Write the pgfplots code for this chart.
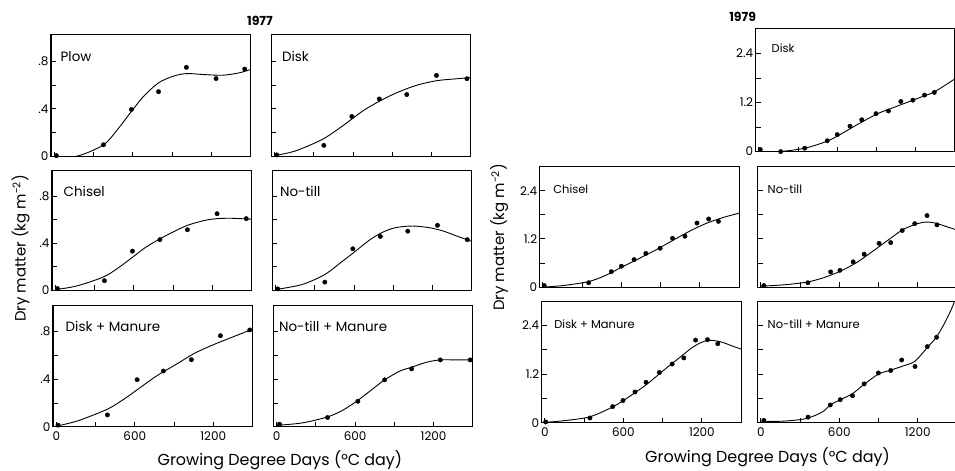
\documentclass[border=0pt]{standalone}
\usepackage{fontspec}
\setmainfont{Poppins}
\usepackage{pgfplots}
\pgfplotsset{compat=1.18}
\begin{document}
\pgfplotsset{
  panel/.style={scale only axis, anchor=north west, width=200pt,
    xmin=-25, xmax=1500, ymin=0,
    axis line style={line width=1.1pt},
    every tick/.style={black, line width=0.9pt}, major tick length=5pt,
    xtick={0,300,600,900,1200}, xticklabels={}, yticklabels={},
    xtick pos=bottom, ytick pos=left, tick align=inside,
    ticklabel style={font=\fontsize{12}{14}\selectfont},
    xticklabel style={yshift=-1pt}, yticklabel style={xshift=1pt}},
  y77/.style={ymax=1.02, ytick={0,0.2,0.4,0.6,0.8}},
  y79/.style={ymax=3.0, ytick={0,0.6,1.2,1.8,2.4}},
  ylab77/.style={yticklabels={0,,.4,,.8}},
  ylab79/.style={yticklabels={0,,1.2,,2.4}},
  xlab/.style={xticklabels={0,,600,,1200}},
  fit/.style={black, line width=0.9pt, smooth, no markers},
  pts/.style={black, only marks, mark=*, mark size=2.2pt},
}
\begin{tikzpicture}
\useasboundingbox (0pt,0pt) rectangle (955pt,-472pt);
% ---------------- 1977 ----------------
\begin{axis}[panel, y77, ylab77, height=122pt, at={(48.5pt,-35pt)}]
\addplot[fit] coordinates {(0,0) (179,0.005) (376,0.098) (482,0.225) (590,0.379) (683,0.505) (797,0.618) (910,0.674) (1011,0.696) (1137,0.688) (1288,0.682) (1414,0.702) (1500,0.73)};
\addplot[pts] coordinates {(16,0.008) (376,0.099) (590,0.395) (797,0.544) (1010,0.748) (1237,0.654) (1456,0.734)};
\end{axis}
\begin{axis}[panel, y77, height=122pt, at={(269.5pt,-35pt)}]
\addplot[fit] coordinates {(0,0.008) (158,0.047) (364,0.144) (518,0.256) (672,0.381) (801,0.464) (929,0.533) (1083,0.597) (1238,0.636) (1366,0.65) (1500,0.662)};
\addplot[pts] coordinates {(16,0.014) (376,0.094) (590,0.336) (800,0.483) (1010,0.52) (1237,0.68) (1470,0.653)};
\end{axis}
\begin{axis}[panel, y77, ylab77, height=120pt, at={(49.5pt,-171pt)}]
\addplot[fit] coordinates {(0,0.005) (164,0.036) (373,0.115) (492,0.199) (593,0.283) (693,0.367) (799,0.437) (920,0.507) (1021,0.557) (1147,0.596) (1240,0.61) (1348,0.613) (1500,0.605)};
\addplot[pts] coordinates {(16,0.014) (376,0.081) (590,0.333) (800,0.431) (1010,0.515) (1237,0.652) (1460,0.61)};
\end{axis}
\begin{axis}[panel, y77, height=120pt, at={(270.5pt,-171pt)}]
\addplot[fit] coordinates {(0,0.006) (197,0.047) (372,0.131) (505,0.242) (595,0.319) (711,0.422) (814,0.492) (917,0.533) (1045,0.547) (1173,0.533) (1276,0.506) (1379,0.464) (1500,0.415)};
\addplot[pts] coordinates {(16,0.011) (376,0.069) (590,0.353) (800,0.458) (1010,0.503) (1237,0.553) (1465,0.431)};
\end{axis}
\begin{axis}[panel, y77, ylab77, xlab, height=122pt, at={(50.5pt,-306pt)}]
\addplot[fit] coordinates {(0,0.006) (164,0.05) (391,0.148) (517,0.232) (643,0.33) (769,0.428) (920,0.526) (1046,0.61) (1172,0.675) (1323,0.742) (1500,0.818)};
\addplot[pts] coordinates {(13,0.014) (391,0.10) (618,0.395) (819,0.468) (1033,0.563) (1255,0.764) (1479,0.812)};
\end{axis}
\begin{axis}[panel, y77, xlab, height=122pt, at={(271.5pt,-306pt)}]
\addplot[fit] coordinates {(0,0.012) (197,0.033) (389,0.083) (505,0.139) (621,0.222) (736,0.319) (826,0.394) (942,0.467) (1032,0.5) (1148,0.542) (1251,0.561) (1379,0.561) (1500,0.561)};
\addplot[pts] coordinates {(22,0.022) (389,0.078) (621,0.214) (826,0.394) (1032,0.486) (1251,0.561) (1480,0.561)};
\end{axis}
% ---------------- 1979 ----------------
\begin{axis}[panel, y79, ylab79, height=123pt, at={(755pt,-29pt)}]
\addplot[fit] coordinates {(0,0) (159,0) (351,0.083) (517,0.248) (620,0.414) (722,0.604) (824,0.786) (926,0.952) (1029,1.076) (1131,1.2) (1233,1.324) (1335,1.448) (1412,1.597) (1500,1.78)};
\addplot[pts] coordinates {(11,0.05) (167,0) (351,0.083) (523,0.265) (600,0.414) (697,0.621) (787,0.778) (896,0.927) (991,0.993) (1086,1.225) (1178,1.258) (1267,1.382) (1342,1.448)};
\end{axis}
\begin{axis}[panel, y79, ylab79, height=121pt, at={(538.5pt,-167pt)}]
\addplot[fit] coordinates {(0,0) (159,0.043) (346,0.137) (472,0.283) (602,0.497) (733,0.711) (863,0.926) (994,1.166) (1124,1.397) (1254,1.594) (1385,1.74) (1500,1.84)};
\addplot[pts] coordinates {(10,0.04) (350,0.111) (523,0.386) (600,0.523) (697,0.686) (787,0.84) (896,0.968) (991,1.217) (1086,1.268) (1178,1.594) (1267,1.697) (1342,1.637)};
\end{axis}
\begin{axis}[panel, y79, height=121pt, at={(757pt,-167pt)}]
\addplot[fit] coordinates {(0,0.025) (175,0.059) (352,0.126) (479,0.235) (605,0.394) (732,0.612) (858,0.898) (985,1.2) (1086,1.43) (1188,1.57) (1264,1.62) (1340,1.59) (1416,1.51) (1500,1.42)};
\addplot[pts] coordinates {(23,0.04) (360,0.11) (534,0.38) (605,0.42) (706,0.63) (790,0.82) (904,1.09) (993,1.11) (1081,1.41) (1177,1.58) (1271,1.78) (1347,1.55)};
\end{axis}
\begin{axis}[panel, y79, ylab79, xlab, height=122pt, at={(540.5pt,-302pt)}]
\addplot[fit] coordinates {(0,0.01) (166,0.06) (344,0.15) (523,0.4) (651,0.66) (779,0.95) (906,1.29) (1034,1.62) (1137,1.88) (1239,2.03) (1341,2.0) (1444,1.88) (1500,1.82)};
\addplot[pts] coordinates {(6,0.02) (344,0.12) (518,0.40) (597,0.55) (689,0.76) (773,1.0) (875,1.24) (973,1.45) (1062,1.60) (1152,2.04) (1243,2.05) (1322,1.95)};
\end{axis}
\begin{axis}[panel, y79, xlab, height=122pt, at={(757pt,-302pt)}]
\addplot[fit] coordinates {(0,0.04) (163,0.04) (340,0.1) (467,0.26) (531,0.44) (607,0.57) (701,0.72) (790,0.95) (899,1.2) (993,1.3) (1086,1.4) (1179,1.52) (1273,1.86) (1344,2.12) (1420,2.55) (1478,2.97) (1500,3.3)};
\addplot[pts] coordinates {(23,0.06) (361,0.14) (531,0.44) (607,0.57) (701,0.67) (790,0.96) (899,1.23) (993,1.29) (1077,1.55) (1179,1.39) (1273,1.88) (1344,2.11)};
\end{axis}
% ---------------- text ----------------
\begin{scope}[every node/.style={inner sep=0pt, anchor=base west, font=\fontsize{13.5}{15}\selectfont}]
\node at (58pt,-62pt) {Plow};
\node at (280pt,-62pt) {Disk};
\node at (61pt,-197pt) {Chisel};
\node at (278pt,-197pt) {No-till};
\node at (63pt,-332pt) {Disk + Manure};
\node at (277pt,-332pt) {No-till + Manure};
\end{scope}
\begin{scope}[every node/.style={inner sep=0pt, anchor=base west, font=\fontsize{11.5}{13}\selectfont}]
\node at (771pt,-53pt) {Disk};
\node at (552pt,-194pt) {Chisel};
\node at (767pt,-194pt) {No-till};
\node at (553pt,-329pt) {Disk + Manure};
\node at (767pt,-329pt) {No-till + Manure};
\end{scope}
\node[font=\bfseries\fontsize{12.5}{14}\selectfont] at (258pt,-21pt) {1977};
\node[font=\bfseries\fontsize{12.5}{14}\selectfont] at (742pt,-17pt) {1979};
\node[font=\fontsize{15}{17}\selectfont, rotate=90] at (18pt,-249pt) {Dry matter (kg m\textsuperscript{-2})};
\node[font=\fontsize{15}{17}\selectfont, rotate=90] at (498pt,-238pt) {Dry matter (kg m\textsuperscript{-2})};
\node[font=\fontsize{16}{18}\selectfont] at (278pt,-461pt) {Growing Degree Days (°C day)};
\node[font=\fontsize{16}{18}\selectfont] at (767pt,-458pt) {Growing Degree Days (°C day)};
\end{tikzpicture}
\end{document}
